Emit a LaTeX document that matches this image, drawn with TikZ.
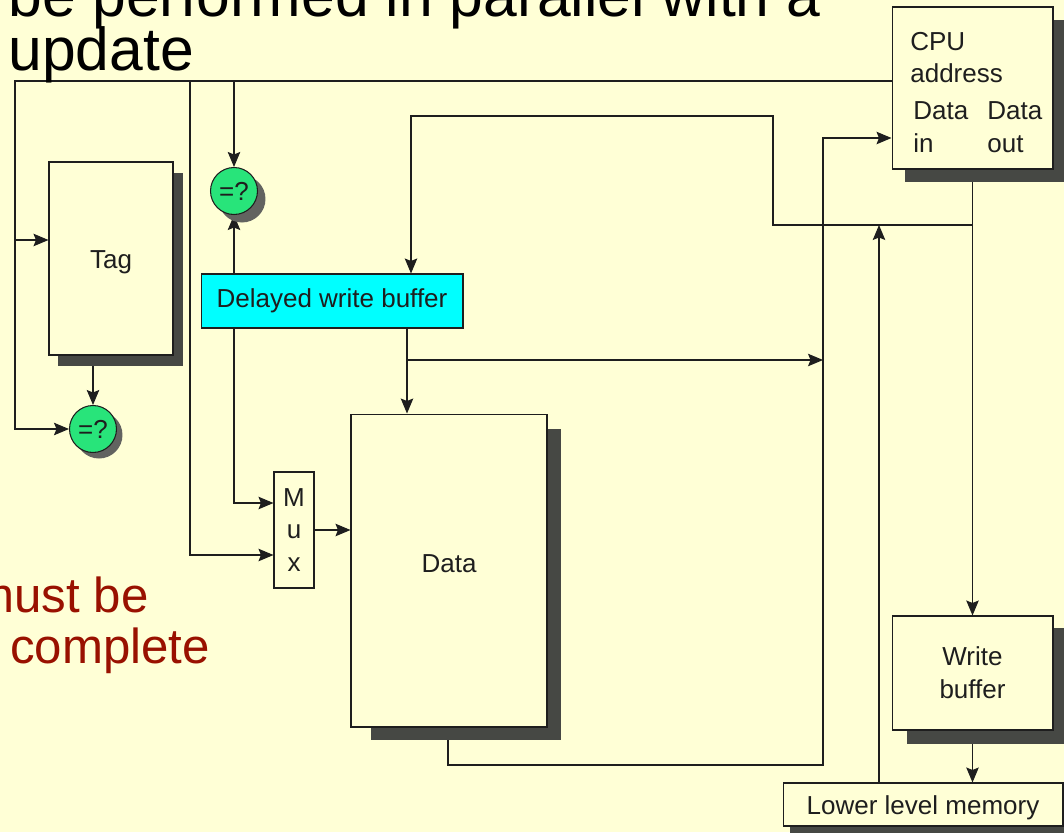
\documentclass[tikz,border=0pt]{standalone}
\usepackage{fontspec}
\setmainfont{Liberation Sans}
\usetikzlibrary{arrows.meta,calc}
\definecolor{bgc}{RGB}{255,255,214}
\definecolor{shc}{RGB}{70,72,68}
\definecolor{cmpc}{RGB}{40,228,122}
\definecolor{redt}{RGB}{153,17,0}
\definecolor{cyanc}{RGB}{0,255,255}
\definecolor{inkc}{RGB}{30,30,30}
\pgfdeclarelayer{back}
\pgfdeclarelayer{wires}
\pgfsetlayers{back,wires,main}
\begin{document}
\begin{tikzpicture}[x=0.02cm,y=-0.02cm,
  lbl/.style={font=\fontsize{14.8}{18.7}\selectfont, text=inkc},
  box/.style={draw=inkc, line width=0.6pt, fill=bgc, inner sep=0pt, lbl},
  wire/.style={draw=inkc, line width=0.6pt},
  arr/.style={wire, -{Stealth[length=0.3cm,width=0.25cm,inset=0.05cm]}},
  cmp/.style={circle, draw=inkc, line width=0.6pt, fill=cmpc, minimum size=0.94cm, inner sep=0pt, lbl},
  shadowfill/.style={fill=shc}
]
\begin{pgfonlayer}{back}
\fill[bgc] (0,0) rectangle (1064,832);
\end{pgfonlayer}
\useasboundingbox (0,0) rectangle (1064,832);
\clip (0,0) rectangle (1064,832);

% title text
\node[anchor=base west, inner sep=0pt, font=\fontsize{34.5}{40}\selectfont] (t1) at (8,16) {be performed in parallel with a};
\node[anchor=base west, inner sep=0pt, font=\fontsize{34.5}{40}\selectfont] (t2) at (8,70) {update};
\node[anchor=base east, inner sep=0pt, text=redt, font=\fontsize{28}{34}\selectfont] (r1) at (149,612) {must be};
\node[anchor=base west, inner sep=0pt, text=redt, font=\fontsize{28}{34}\selectfont] (r2) at (10,663) {complete};

% shadows
\fill[shadowfill] (58,173) rectangle (183,366);
\fill[shadowfill] (905,20) rectangle (1070,182);
\fill[shadowfill] (371,429) rectangle (561,740);
\fill[shadowfill] (907,628) rectangle (1070,744);
\fill[shadowfill] (790,796) rectangle (1070,840);
\fill[shc!85] (99,435) circle (0.47cm);
\fill[shc!85] (242,199) circle (0.47cm);

% boxes
\node[box, minimum width=3.22cm, minimum height=3.24cm] (cpu) at (972.5,88) {};
\node[lbl, anchor=base west, inner sep=0pt] (cpu1) at (910,50) {CPU};
\node[lbl, anchor=base west, inner sep=0pt] (cpu2) at (910,82) {address};
\node[lbl, anchor=base west, inner sep=0pt] (cpu3) at (913,119) {Data};
\node[lbl, anchor=base west, inner sep=0pt] (cpu4) at (987,119) {Data};
\node[lbl, anchor=base west, inner sep=0pt] (cpu5) at (913,152) {in};
\node[lbl, anchor=base west, inner sep=0pt] (cpu6) at (987,152) {out};

\node[box, minimum width=2.48cm, minimum height=3.86cm] (tag) at (111,258.5) {};
\node[lbl] (taglbl) at (111,262) {Tag};
\node[box, fill=cyanc, minimum width=5.24cm, minimum height=1.08cm] (dwb) at (332,301) {Delayed write buffer};
\node[box, minimum width=3.92cm, minimum height=6.26cm] (data) at (449,570.5) {};
\node[lbl] (datalbl) at (449,564) {Data};
\node[box, align=center, minimum width=0.8cm, minimum height=2.32cm] (mux) at (294,530) {M\\u\\x};
\node[box, align=center, minimum width=3.22cm, minimum height=2.28cm] (wb) at (972.5,673) {Write\\buffer};
\node[box, minimum width=5.6cm, minimum height=0.86cm] (llm) at (923,804.5) {};
\node[lbl] (llmlbl) at (923,808) {Lower level memory};
\node[cmp] (c1) at (93,429) {=?};
\node[cmp] (c2) at (234,191) {=?};

% junction coordinates
\coordinate (jA) at (15,81);
\coordinate (jT) at (15,240);
\coordinate (jB) at (190,81);
\coordinate (jC) at (234,81);
\coordinate (mi1) at (274,503);
\coordinate (mi2) at (274,555);
\coordinate (k1) at (773,225);
\coordinate (k2) at (773,116);
\coordinate (k3) at (411,116);
\coordinate (k4) at (879,225);
\coordinate (k5) at (407,360);
\coordinate (k6) at (823,360);
\coordinate (k7) at (823,138);
\coordinate (k8) at (823,765);
\coordinate (k9) at (448,765);

\begin{pgfonlayer}{wires}
\draw[arr] (cpu.west |- jA) -- (jA) |- (c1.west);
\draw[arr] (jT) -- (tag.west |- jT);
\draw[arr] (jB) |- (mux.west |- mi2);
\draw[arr] (jC) -- (c2.north);
\draw[arr] (tag.south -| c1) -- (c1.north);
\draw[arr] (dwb.north -| c2) -- (c2.south);
\draw[arr] (dwb.south -| c2) |- (mux.west |- mi1);
\draw[arr] (mux.east) -- (data.west |- mux.east);
\draw[arr] (cpu.south) -- (wb.north);
\draw[arr] (wb.south) -- (wb.south |- llm.north);
\draw[arr] (cpu.south |- k1) -- (k1) -- (k2) -- (k3) -- (k3 |- dwb.north);
\draw[arr] (llm.north -| k4) -- (k4);
\draw[arr] (dwb.south -| k5) -- (k5 |- data.north);
\draw[arr] (k5) -- (k6);
\draw[arr] (data.south -| k9) -- (k9) -- (k8) -- (k7) -- (cpu.west |- k7);
\end{pgfonlayer}
\end{tikzpicture}
\end{document}
